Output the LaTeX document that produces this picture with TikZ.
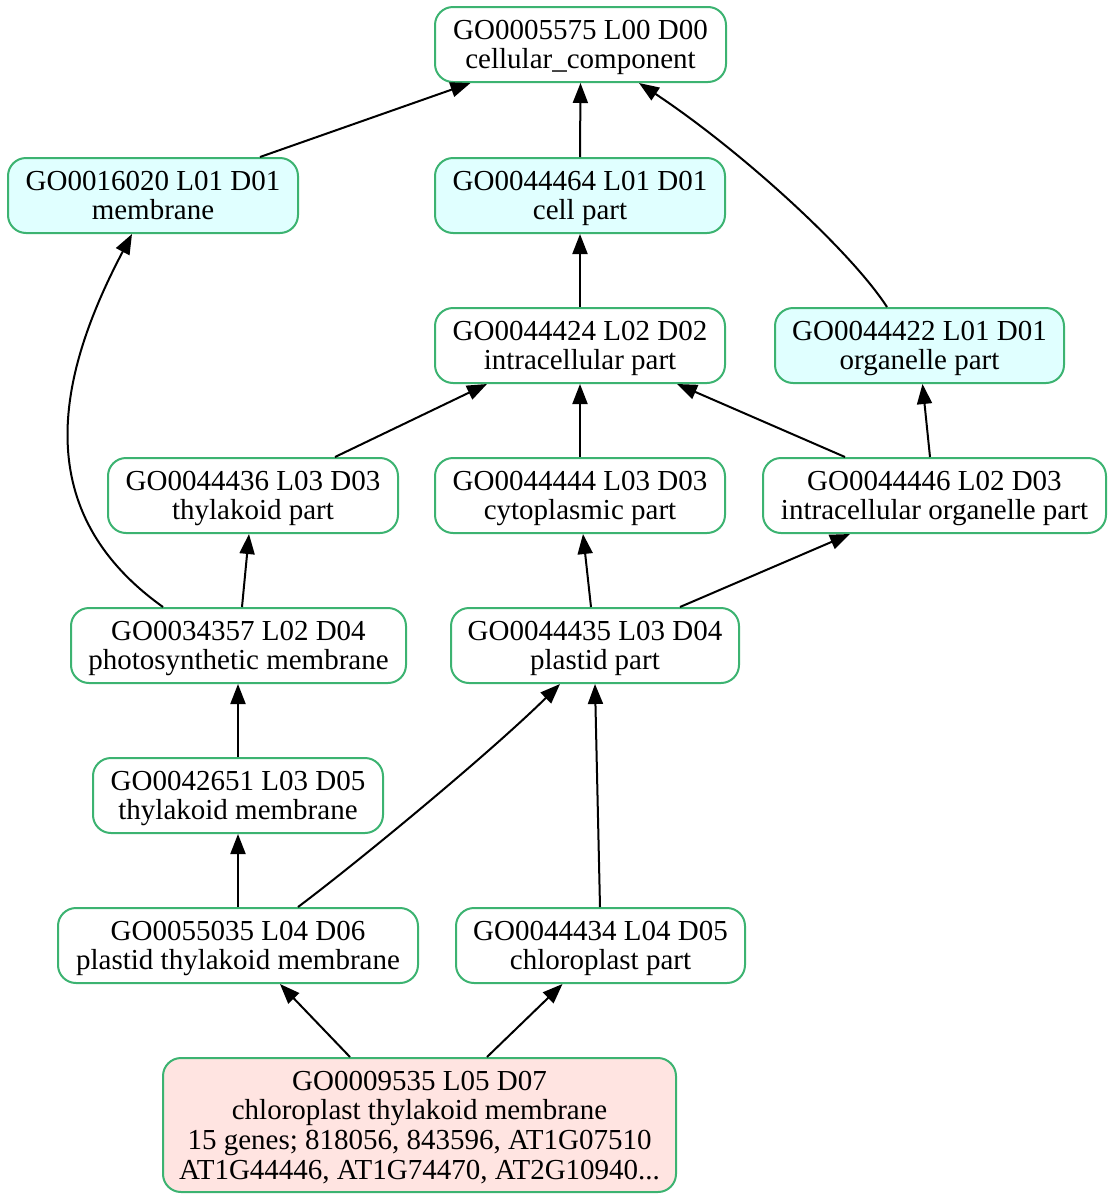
\documentclass[tikz,border=0pt]{standalone}
\usepackage{fontspec}
\setmainfont{Liberation Serif}
\usetikzlibrary{arrows.meta}
\definecolor{goedge}{HTML}{3CB371}
\definecolor{gocyan}{HTML}{E0FFFF}
\definecolor{gopink}{HTML}{FFE4E1}
\begin{document}
\begin{tikzpicture}[x=1pt,y=-1pt,
  term/.style={draw=goedge, line width=2pt, rounded corners=18pt,
    minimum height=75pt, inner sep=0pt, align=center, fill=white,
    text depth=0pt, font=\fontsize{29}{29.6}\selectfont},
  top/.style={term, fill=gocyan},
  leaf/.style={term, fill=gopink},
  link/.style={line width=2pt, -{Triangle[length=20pt,width=15pt]}}]
\useasboundingbox (0,0) rectangle (1114,1200);

% GO terms
\node[term, minimum width=291pt] (cc)  at (580.5,44.5) {GO0005575 L00 D00\\cellular\_component};
\node[top,  minimum width=290pt] (mem) at (153,195.5)  {GO0016020 L01 D01\\membrane};
\node[top,  minimum width=290pt] (cp)  at (580,195.5)  {GO0044464 L01 D01\\cell part};
\node[term, minimum width=290pt] (ip)  at (580,345.5)  {GO0044424 L02 D02\\intracellular part};
\node[top,  minimum width=289pt] (op)  at (919.5,345.5) {GO0044422 L01 D01\\organelle part};
\node[term, minimum width=290pt] (tp)  at (253,495.5)  {GO0044436 L03 D03\\thylakoid part};
\node[term, minimum width=290pt] (cyp) at (580,495.5)  {GO0044444 L03 D03\\cytoplasmic part};
\node[term, minimum width=343pt] (iop) at (934.5,495.5) {GO0044446 L02 D03\\intracellular organelle part};
\node[term, minimum width=335pt] (psm) at (238.5,645.5) {GO0034357 L02 D04\\photosynthetic membrane};
\node[term, minimum width=288pt] (pp)  at (595,645.5)  {GO0044435 L03 D04\\plastid part};
\node[term, minimum width=290pt] (tm)  at (238,795.5)  {GO0042651 L03 D05\\thylakoid membrane};
\node[term, minimum width=360pt] (ptm) at (238,945.5)  {GO0055035 L04 D06\\plastid thylakoid membrane};
\node[term, minimum width=289pt] (chp) at (600.5,945.5) {GO0044434 L04 D05\\chloroplast part};
\node[leaf, minimum width=513pt, minimum height=134pt] (ctm) at (419.5,1125)
  {GO0009535 L05 D07\\chloroplast thylakoid membrane\\15 genes; 818056, 843596, AT1G07510\\AT1G44446, AT1G74470, AT2G10940...};

% is-a relations, child to parent
\draw[link] ([xshift=107pt]mem.north) -- ([xshift=-110pt]cc.south);
\draw[link] (cp.north) -- (cc.south);
\draw[link] ([xshift=-32.5pt]op.north) .. controls (850,250) and (740,150) .. ([xshift=58.5pt]cc.south);
\draw[link] (ip.north) -- (cp.south);
\draw[link] ([xshift=-75.5pt]psm.north) .. controls (30,512) and (55,380) .. ([xshift=-21pt]mem.south);
\draw[link] ([xshift=82pt]tp.north) -- ([xshift=-93pt]ip.south);
\draw[link] (cyp.north) -- (ip.south);
\draw[link] ([xshift=-89.5pt]iop.north) -- ([xshift=97pt]ip.south);
\draw[link] ([xshift=-4.5pt]iop.north) -- ([xshift=3pt]op.south);
\draw[link] ([xshift=3.5pt]psm.north) -- ([xshift=-4pt]tp.south);
\draw[link] ([xshift=-4pt]pp.north) -- ([xshift=3pt]cyp.south);
\draw[link] ([xshift=85pt]pp.north) -- ([xshift=-84.5pt]iop.south);
\draw[link] (tm.north) -- (tm.north |- psm.south);
\draw[link] (ptm.north) -- (tm.south);
\draw[link] ([xshift=60pt]ptm.north) .. controls (358,862) and (490,753) .. ([xshift=-35pt]pp.south);
\draw[link] ([xshift=-0.5pt]chp.north) -- (pp.south);
\draw[link] ([xshift=-69.5pt]ctm.north) -- ([xshift=42pt]ptm.south);
\draw[link] ([xshift=67.5pt]ctm.north) -- ([xshift=-38pt]chp.south);
\end{tikzpicture}
\end{document}
